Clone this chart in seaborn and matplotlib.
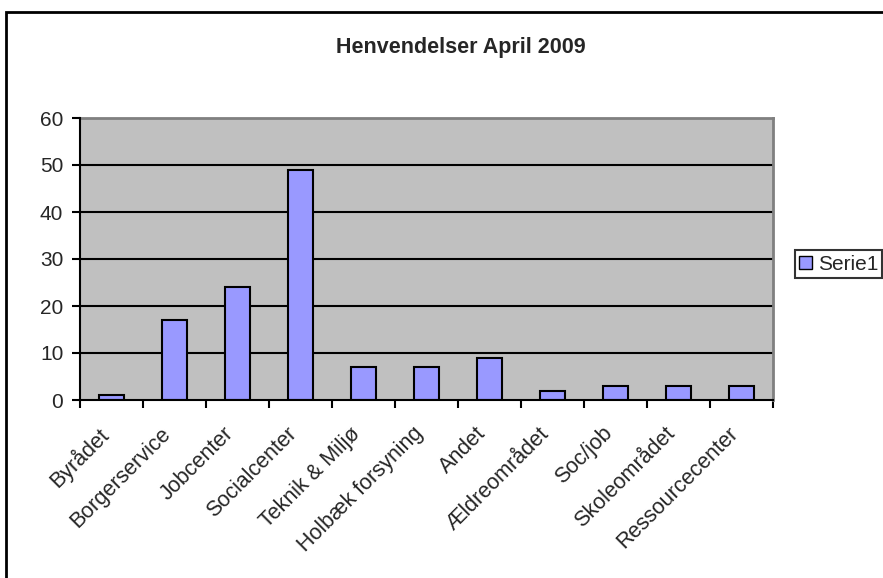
import matplotlib
matplotlib.use("Agg")
import matplotlib.pyplot as plt
import matplotlib.transforms as mtransforms
import seaborn as sns
import pandas as pd
from matplotlib.patches import Patch, Rectangle

categories = ["Byrådet", "Borgerservice", "Jobcenter", "Socialcenter", "Teknik & Miljø",
              "Holbæk forsyning", "Andet", "Ældreområdet", "Soc/job", "Skoleområdet",
              "Ressourcecenter"]
values = [1, 17, 24, 49, 7, 7, 9, 2, 3, 3, 3]
series_name = "Serie1"
title = "Henvendelser April 2009"
yticks = [0, 10, 20, 30, 40, 50, 60]

sns.set_theme(style="white")
plt.rcParams['font.family'] = ['Liberation Sans', 'DejaVu Sans']

W, H = 883, 578
fig = plt.figure(figsize=(W / 100, H / 100), dpi=100)
ax = fig.add_axes([80 / W, 1 - 400 / H, (773 - 80) / W, (400 - 118) / H])

df = pd.DataFrame({"cat": categories, "val": values})
bar_color = "#9999FF"
sns.barplot(data=df, x="cat", y="val", color=bar_color, width=0.4,
            edgecolor="black", linewidth=1.5, saturation=1, ax=ax, zorder=3)

ax.set_facecolor("#C0C0C0")
ax.set_ylim(0, 60)
ax.set_xlim(-0.5, len(categories) - 0.5)
ax.set_yticks(yticks)
ax.set_yticklabels([str(v) for v in yticks], fontsize=15)
for v in yticks[1:-1]:
    ax.axhline(v, color="black", linewidth=1.5, zorder=1)

ax.set_xticks(range(len(categories)))
ax.set_xticklabels(categories, rotation=45, ha="right", va="top",
                   rotation_mode="anchor", fontsize=15.5)
ax.tick_params(axis="x", which="major", length=0, pad=0)
offset = mtransforms.ScaledTranslation(-0.14, -0.23, fig.dpi_scale_trans)
for lbl in ax.get_xticklabels():
    lbl.set_transform(lbl.get_transform() + offset)
ax.set_xticks([i - 0.5 for i in range(len(categories) + 1)], minor=True)
ax.tick_params(axis="x", which="minor", length=6, width=1.5, color="black", bottom=True, direction="out")
ax.tick_params(axis="y", length=6, width=1.5, color="black", left=True, direction="out", pad=6)
ax.set_xlabel("")
ax.set_ylabel("")

for s in ["left", "bottom"]:
    ax.spines[s].set_color("black")
    ax.spines[s].set_linewidth(1.5)
    ax.spines[s].set_zorder(4)
for s in ["top", "right"]:
    ax.spines[s].set_color("#808080")
    ax.spines[s].set_linewidth(2)
    ax.spines[s].set_visible(True)

fig.text(0.522, 1 - 48 / H, title, ha="center", va="center", fontsize=15.5, fontweight="bold")

leg = fig.legend(handles=[Patch(facecolor=bar_color, edgecolor="black", linewidth=1)],
                 labels=[series_name], loc="center left",
                 bbox_to_anchor=(795 / W, 1 - 264 / H), fontsize=15, frameon=True,
                 fancybox=False, handlelength=0.6, handleheight=0.6, handletextpad=0.3,
                 borderpad=0.2, borderaxespad=0)
leg.get_frame().set_edgecolor("black")
leg.get_frame().set_linewidth(1.5)

frame = Rectangle((6 / W, -0.2), 1.2, 1.2 + (1 - 12 / H) - 1, transform=fig.transFigure,
                  fill=False, edgecolor="black", linewidth=2, clip_on=False)
fig.patches.append(frame)

fig.savefig("out.png", dpi=100)
